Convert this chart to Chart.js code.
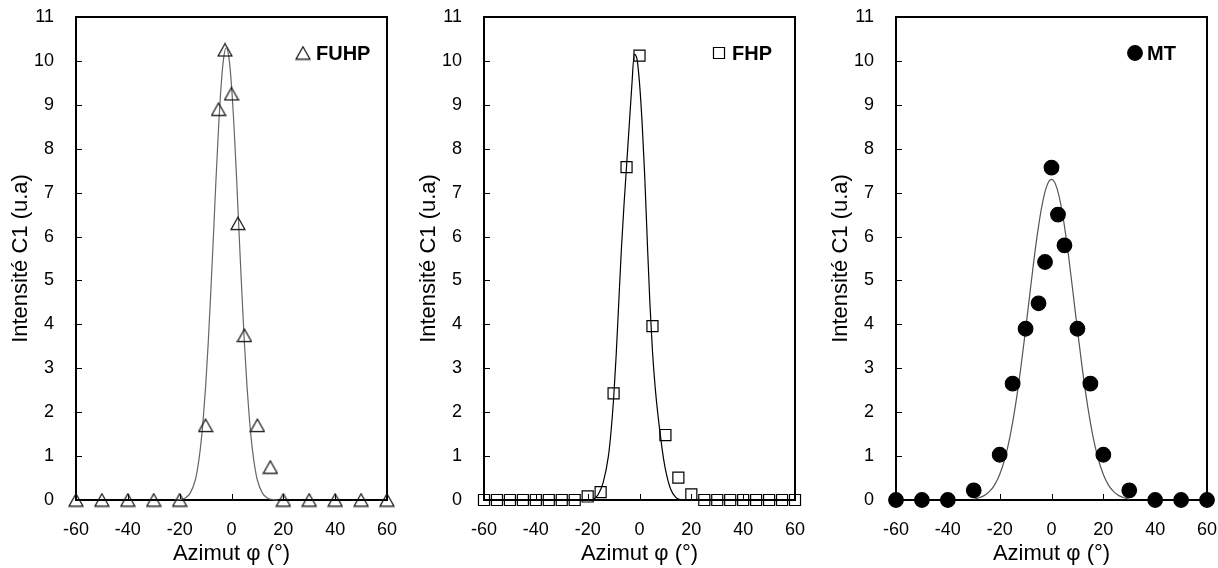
<!DOCTYPE html>
<html><head><meta charset="utf-8">
<script src="https://cdn.jsdelivr.net/npm/chart.js@4.4.1/dist/chart.umd.min.js"></script>
<style>
html,body{margin:0;padding:0;background:#fff;width:1218px;height:568px;overflow:hidden}
.p{position:absolute;top:0;height:568px}
</style></head><body>
<div class="p" style="left:0;width:410px"><canvas id="c1" width="410" height="568"></canvas></div>
<div class="p" style="left:408px;width:410px"><canvas id="c2" width="410" height="568"></canvas></div>
<div class="p" style="left:820px;width:398px"><canvas id="c3" width="398" height="568"></canvas></div>
<script>
// ---- tick labels / axes ----
const xTickValues = [-60, -40, -20, 0, 20, 40, 60];
const yTickValues = [0,1,2,3,4,5,6,7,8,9,10,11];
const xTitle = 'Azimut φ (°)';
const yTitle = 'Intensité C1 (u.a)';

// ---- FUHP (triangles) ----
const fuhpX = [-60,-50,-40,-30,-20,-10,-5,-2.5,0,2.5,5,10,15,20,30,40,50,60];
const fuhpY = [0,0,0,0,0,1.7,8.9,10.25,9.25,6.3,3.75,1.7,0.75,0,0,0,0,0];
const fuhpFitX = [-22,-20,-18,-16,-14,-13,-12,-11,-10,-9,-8,-7,-6,-5,-4,-3,-2,-1,0,1,2,3,4,5,6,7,8,9,10,12,14,16,18];
const fuhpFitY = [0,0.01,0.04,0.15,0.45,0.75,1.18,1.78,2.57,3.56,4.72,5.98,7.28,8.47,9.44,10.08,10.3,10.08,9.44,8.47,7.28,5.98,4.72,3.56,2.57,1.78,1.18,0.75,0.45,0.15,0.04,0.01,0];

// ---- FHP (squares) ----
const fhpX = [-60,-55,-50,-45,-40,-35,-30,-25,-20,-15,-10,-5,0,5,10,15,20,25,30,35,40,45,50,55,60];
const fhpY = [0,0,0,0,0,0,0,0,0.08,0.18,2.43,7.58,10.12,3.96,1.48,0.51,0.13,0,0,0,0,0,0,0,0];
const fhpFitX = [-18,-16,-14,-12,-11,-10,-9,-8,-7,-6,-5,-4,-3,-2,-1,0,1,2,3,4,5,6,7,8,9,10,12,14,16];
const fhpFitY = [0,0.12,0.4,1.0,1.55,2.3,3.3,4.5,5.7,6.7,7.6,8.5,9.4,10.15,10.05,9.5,8.6,7.4,5.9,4.5,3.4,2.6,2.0,1.5,1.05,0.7,0.25,0.06,0];

// ---- MT (filled dots) ----
const mtX = [-60,-50,-40,-30,-20,-15,-10,-5,-2.5,0,2.5,5,10,15,20,30,40,50,60];
const mtY = [0,0,0,0.22,1.03,2.65,3.9,4.48,5.42,7.57,6.5,5.8,3.9,2.65,1.03,0.22,0,0,0];
const mtFitX = [-30,-28,-26,-24,-22,-20,-18,-16,-14,-12,-10,-8,-6,-4,-2,0,2,4,6,8,10,12,14,16,18,20,22,24,26,28,30];
const mtFitY = [0.02,0.05,0.10,0.19,0.34,0.58,0.94,1.45,2.12,2.94,3.88,4.87,5.82,6.60,7.12,7.30,7.12,6.60,5.82,4.87,3.88,2.94,2.12,1.45,0.94,0.58,0.34,0.19,0.10,0.05,0.02];

const FONT = 'Arial, "Liberation Sans", sans-serif';
const pts = (xs, ys) => xs.map((x, i) => ({x: x, y: ys[i]}));

// hollow triangle marker, centred on its bounding box (as in the reference)
const triMarker = (() => {
  const c = document.createElement('canvas');
  c.width = 16; c.height = 15;
  const g = c.getContext('2d');
  g.strokeStyle = '#111';
  g.lineWidth = 1.2;
  g.beginPath();
  g.moveTo(8, 1.2); g.lineTo(15, 13.6); g.lineTo(1, 13.6); g.closePath();
  g.stroke();
  return c;
})();

const framePlugin = {
  id: 'frame',
  beforeDatasetsDraw(chart) {
    const {ctx, chartArea: a, scales} = chart;
    const x = scales.x, y = scales.y;
    ctx.save();
    ctx.strokeStyle = '#000';
    ctx.lineWidth = 1;
    ctx.beginPath();
    y.ticks.forEach(t => {
      const py = Math.round(y.getPixelForValue(t.value)) + 0.5;
      ctx.moveTo(a.left, py); ctx.lineTo(a.left + 6, py);
    });
    x.ticks.forEach(t => {
      const px = Math.round(x.getPixelForValue(t.value)) + 0.5;
      ctx.moveTo(px, a.bottom); ctx.lineTo(px, a.bottom - 6);
    });
    ctx.stroke();
    ctx.lineWidth = 2;
    ctx.strokeRect(a.left, a.top, a.right - a.left, a.bottom - a.top);
    ctx.restore();
  }
};

const legendPlugin = {
  id: 'miniLegend',
  afterDatasetsDraw(chart, args, opts) {
    const {ctx, chartArea: a} = chart;
    ctx.save();
    const my = a.top + opts.dy;
    ctx.strokeStyle = '#000';
    ctx.fillStyle = opts.fill;
    ctx.lineWidth = opts.borderWidth;
    Chart.helpers.drawPoint(ctx, {pointStyle: opts.style, radius: opts.radius, rotation: 0, borderWidth: opts.borderWidth}, a.right - opts.mx, my);
    ctx.fillStyle = '#000';
    ctx.font = 'bold 20px ' + FONT;
    ctx.textAlign = 'left';
    ctx.textBaseline = 'middle';
    ctx.fillText(opts.label, a.right - opts.tx, my + 1);
    ctx.restore();
  }
};

function makeChart(id, cfg) {
  return new Chart(document.getElementById(id), {
    type: 'scatter',
    data: {
      datasets: [
        {
          label: cfg.label,
          data: pts(cfg.xs, cfg.ys),
          pointStyle: cfg.style,
          pointRadius: cfg.radius,
          pointBackgroundColor: cfg.fill,
          pointBorderColor: '#000',
          pointBorderWidth: 1.2,
          clip: false
        },
        {
          label: cfg.label + ' fit',
          data: pts(cfg.fx, cfg.fy),
          showLine: true,
          pointRadius: 0,
          borderColor: cfg.lineColor,
          borderWidth: 1.2,
          cubicInterpolationMode: 'monotone',
          clip: false
        }
      ]
    },
    options: {
      responsive: false,
      animation: false,
      devicePixelRatio: 1,
      layout: {padding: {top: 17, right: cfg.padRight, bottom: 0, left: 0}},
      plugins: {
        legend: {display: false},
        tooltip: {enabled: false},
        miniLegend: {label: cfg.label, style: cfg.style, radius: cfg.legRadius, fill: cfg.fill, borderWidth: 1.2, mx: cfg.mx, tx: cfg.tx, dy: 36}
      },
      scales: {
        x: {
          type: 'linear', min: -60, max: 60,
          afterBuildTicks: s => { s.ticks = xTickValues.map(v => ({value: v})); },
          afterFit: s => { s.height = 68; s.paddingLeft = 0; s.paddingRight = 0; },
          ticks: {color: '#000', font: {family: FONT, size: 18}, padding: 19, maxRotation: 0, autoSkip: false},
          grid: {display: false, drawTicks: false},
          border: {display: false},
          title: {display: true, text: xTitle, color: '#000', font: {family: FONT, size: 22}, padding: {top: 0, bottom: 1}}
        },
        y: {
          type: 'linear', min: 0, max: 11,
          afterBuildTicks: s => { s.ticks = yTickValues.map(v => ({value: v})); },
          afterFit: s => { s.width = 76; s.paddingTop = 0; s.paddingBottom = 0; },
          ticks: {color: '#000', font: {family: FONT, size: 18}, padding: 22},
          grid: {display: false, drawTicks: false},
          border: {display: false},
          title: {display: true, text: yTitle, color: '#000', font: {family: FONT, size: 22}, padding: {top: 8, bottom: 0}}
        }
      }
    },
    plugins: [framePlugin, legendPlugin]
  });
}

makeChart('c1', {label: 'FUHP', xs: fuhpX, ys: fuhpY, fx: fuhpFitX, fy: fuhpFitY, style: triMarker, radius: 8, legRadius: 8, fill: 'rgba(0,0,0,0)', lineColor: '#666', padRight: 23, mx: 84, tx: 71});
makeChart('c2', {label: 'FHP', xs: fhpX, ys: fhpY, fx: fhpFitX, fy: fhpFitY, style: 'rect', radius: 7.8, legRadius: 7.8, fill: 'rgba(0,0,0,0)', lineColor: '#000', padRight: 23, mx: 76, tx: 63});
makeChart('c3', {label: 'MT', xs: mtX, ys: mtY, fx: mtFitX, fy: mtFitY, style: 'circle', radius: 7.3, legRadius: 7.3, fill: '#000', lineColor: '#555', padRight: 11, mx: 72, tx: 60});
</script>
</body></html>
